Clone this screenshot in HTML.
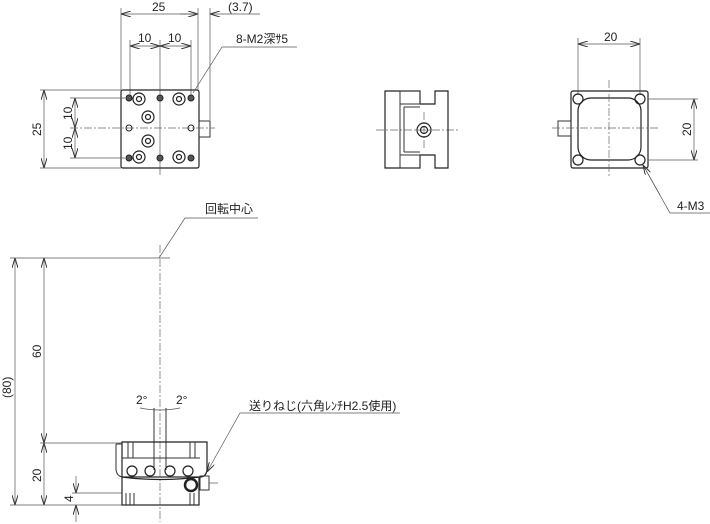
<!DOCTYPE html>
<html><head><meta charset="utf-8"><style>
html,body{margin:0;padding:0;background:#fff}
svg{display:block}
text{font-family:"Liberation Sans","Noto Sans CJK JP",sans-serif;font-size:12px;fill:#222}
.l{stroke:#333;stroke-width:1;fill:none}
.t{stroke:#555;stroke-width:.7;fill:none}
.c{stroke:#666;stroke-width:.7;fill:none;stroke-dasharray:8 2 2 2}
.p{stroke:#222;stroke-width:1.2;fill:none}
</style></head><body>
<svg width="710" height="524" viewBox="0 0 710 524">
<defs>
<marker id="a" viewBox="0 0 10 6" refX="10" refY="3" markerWidth="10" markerHeight="6" orient="auto-start-reverse" markerUnits="userSpaceOnUse"><path d="M0,0L10,3L0,6" fill="none" stroke="#333" stroke-width="1"/></marker>
</defs>
<!-- TOP VIEW -->
<g>
<line class="t" x1="121" y1="8" x2="121" y2="90"/>
<line class="t" x1="198" y1="8" x2="198" y2="90"/>
<line class="t" x1="210" y1="8" x2="210" y2="120"/>
<line class="t" x1="121" y1="14" x2="198" y2="14" marker-start="url(#a)" marker-end="url(#a)"/>
<text x="152" y="11">25</text>
<line class="t" x1="180" y1="14" x2="198" y2="14"/>
<line class="t" x1="210" y1="14" x2="260" y2="14" marker-start="url(#a)"/>
<text x="228" y="11">(3.7)</text>
<line class="t" x1="130" y1="40" x2="130" y2="95"/>
<line class="t" x1="160" y1="40" x2="160" y2="175"/>
<line class="t" x1="191" y1="40" x2="191" y2="95"/>
<line class="t" x1="130" y1="46" x2="160" y2="46" marker-start="url(#a)" marker-end="url(#a)"/>
<line class="t" x1="160" y1="46" x2="191" y2="46" marker-start="url(#a)" marker-end="url(#a)"/>
<text x="138" y="42">10</text><text x="168" y="42">10</text>
<rect class="p" x="121" y="90" width="78" height="78" rx="2"/>
<rect class="l" x="199" y="121" width="11" height="16"/>
<line class="t" x1="40" y1="90" x2="121" y2="90"/>
<line class="t" x1="40" y1="168" x2="121" y2="168"/>
<line class="t" x1="70" y1="98" x2="125" y2="98"/>
<line class="t" x1="70" y1="158" x2="125" y2="158"/>
<line class="c" x1="70" y1="128" x2="215" y2="128"/>
<line class="t" x1="44" y1="90" x2="44" y2="168" marker-start="url(#a)" marker-end="url(#a)"/>
<line class="t" x1="75" y1="98" x2="75" y2="128" marker-start="url(#a)" marker-end="url(#a)"/>
<line class="t" x1="75" y1="128" x2="75" y2="158" marker-start="url(#a)" marker-end="url(#a)"/>
<text transform="translate(41,136) rotate(-90)">25</text>
<text transform="translate(72,120) rotate(-90)">10</text>
<text transform="translate(72,150) rotate(-90)">10</text>
<g fill="#555" stroke="#222" stroke-width="1">
<circle cx="129" cy="98" r="3"/><circle cx="160" cy="98" r="3"/><circle cx="191" cy="98" r="3"/>
<circle cx="129" cy="158" r="3"/><circle cx="160" cy="158" r="3"/><circle cx="191" cy="158" r="3"/>
<circle cx="129" cy="128" r="3" fill="none"/><circle cx="191" cy="128" r="3" fill="none"/>
</g>
<g class="p">
<circle cx="139" cy="99" r="6"/><circle cx="139" cy="99" r="2.5"/>
<circle cx="179" cy="99" r="6"/><circle cx="179" cy="99" r="2.5"/>
<circle cx="139" cy="157" r="6"/><circle cx="139" cy="157" r="2.5"/>
<circle cx="179" cy="157" r="6"/><circle cx="179" cy="157" r="2.5"/>
<circle cx="148" cy="117" r="6"/><circle cx="148" cy="117" r="2.5"/>
<circle cx="148" cy="141" r="6"/><circle cx="148" cy="141" r="2.5"/>
</g>
<polyline class="t" points="193,93 222,47 297,47"/>
<text x="236" y="43">8-M2深ｻ5</text>
</g>
<!-- SIDE VIEW -->
<g>
<line class="c" x1="376" y1="130" x2="458" y2="130"/>
<line class="c" x1="424" y1="112" x2="424" y2="150"/>
<path class="p" d="M385,91H420V104H435V91H448V168H435V155H420V168H385Z"/>
<line class="l" x1="400" y1="91" x2="400" y2="168"/>
<rect class="l" x="400" y="91" width="20" height="13"/>
<rect class="l" x="400" y="155" width="20" height="13"/>
<line class="l" x1="404" y1="107" x2="404" y2="152"/>
<line class="l" x1="404" y1="107" x2="420" y2="107"/>
<line class="l" x1="404" y1="152" x2="420" y2="152"/>
<circle class="p" cx="424" cy="130" r="7" stroke-width="2"/>
<circle class="p" cx="424" cy="130" r="3.5"/>
</g>
<!-- BOTTOM VIEW -->
<g>
<line class="t" x1="578" y1="38" x2="578" y2="95"/>
<line class="t" x1="640" y1="38" x2="640" y2="95"/>
<line class="t" x1="578" y1="44" x2="640" y2="44" marker-start="url(#a)" marker-end="url(#a)"/>
<text x="604" y="41">20</text>
<rect class="p" x="571" y="91" width="77" height="77" rx="2"/>
<rect class="p" x="578" y="98" width="63" height="62" rx="13"/>
<rect class="l" x="558" y="121" width="13" height="15"/>
<line class="c" x1="552" y1="128" x2="658" y2="128"/>
<line class="c" x1="609" y1="80" x2="609" y2="176"/>
<g class="p"><circle cx="578" cy="99" r="5"/><circle cx="640" cy="99" r="5"/><circle cx="578" cy="160" r="5"/><circle cx="640" cy="160" r="5"/></g>
<line class="t" x1="648" y1="99" x2="698" y2="99"/>
<line class="t" x1="648" y1="160" x2="698" y2="160"/>
<line class="t" x1="694" y1="99" x2="694" y2="160" marker-start="url(#a)" marker-end="url(#a)"/>
<text transform="translate(691,136) rotate(-90)">20</text>
<polyline class="t" points="643,165 670,213 710,213"/>
<line class="t" x1="660" y1="195" x2="643" y2="165" marker-end="url(#a)"/>
<text x="677" y="210">4-M3</text>
</g>
<!-- FRONT VIEW -->
<g>
<text x="205" y="213">回転中心</text>
<polyline class="t" points="159,258 185,218 258,218"/>
<line class="c" x1="160" y1="245" x2="160" y2="522"/>
<line class="t" x1="10" y1="258" x2="170" y2="258"/>
<line class="t" x1="15" y1="258" x2="15" y2="505" marker-start="url(#a)" marker-end="url(#a)"/>
<text transform="translate(11,398) rotate(-90)">(80)</text>
<line class="t" x1="44" y1="258" x2="44" y2="443" marker-start="url(#a)" marker-end="url(#a)"/>
<text transform="translate(41,358) rotate(-90)">60</text>
<line class="t" x1="40" y1="443" x2="122" y2="443"/>
<line class="t" x1="44" y1="443" x2="44" y2="505" marker-start="url(#a)" marker-end="url(#a)"/>
<text transform="translate(41,482) rotate(-90)">20</text>
<line class="t" x1="10" y1="505" x2="122" y2="505"/>
<line class="t" x1="72" y1="493" x2="122" y2="493"/>
<line class="t" x1="76" y1="476" x2="76" y2="493" marker-end="url(#a)"/>
<line class="t" x1="76" y1="522" x2="76" y2="505" marker-end="url(#a)"/>
<text transform="translate(73,502) rotate(-90)">4</text>
<text x="136" y="404">2°</text><text x="176" y="404">2°</text>
<path class="t" d="M140,408 Q160,412 180,408"/>
<line class="l" x1="154" y1="408" x2="154" y2="470"/>
<line class="l" x1="166" y1="408" x2="166" y2="470"/>
<path class="p" d="M122,442H207V470Q206,477 200,477Q160,482 122,477Z"/>
<path class="l" d="M116,444L122,444M116,444V470Q117,476 122,477"/>
<line class="l" x1="122" y1="458" x2="200" y2="458"/>
<line class="l" x1="128" y1="442" x2="128" y2="458"/>
<line class="l" x1="133" y1="442" x2="133" y2="458"/>
<line class="l" x1="190" y1="442" x2="190" y2="458"/>
<line class="l" x1="195" y1="442" x2="195" y2="458"/>
<rect class="p" x="122" y="477" width="77" height="28"/>
<g class="l"><line x1="126" y1="493" x2="126" y2="505"/><line x1="130" y1="493" x2="130" y2="505"/><line x1="134" y1="493" x2="134" y2="505"/><line x1="190" y1="493" x2="190" y2="505"/><line x1="194" y1="493" x2="194" y2="505"/></g>
<g class="p"><circle cx="132" cy="471" r="5"/><circle cx="150" cy="471" r="5"/><circle cx="170" cy="471" r="5"/><circle cx="188" cy="471" r="5"/></g>
<circle cx="191" cy="485" r="6" fill="none" stroke="#222" stroke-width="2.5"/>
<rect class="l" x="200" y="476" width="9" height="14"/>
<line class="t" x1="209" y1="483" x2="218" y2="483"/>
<polyline class="t" points="240,413 400,413"/>
<line class="t" x1="240" y1="413" x2="207" y2="472" marker-end="url(#a)"/>
<text x="249" y="410">送りねじ(六角ﾚﾝﾁH2.5使用)</text>
</g>
</svg>
</body></html>
